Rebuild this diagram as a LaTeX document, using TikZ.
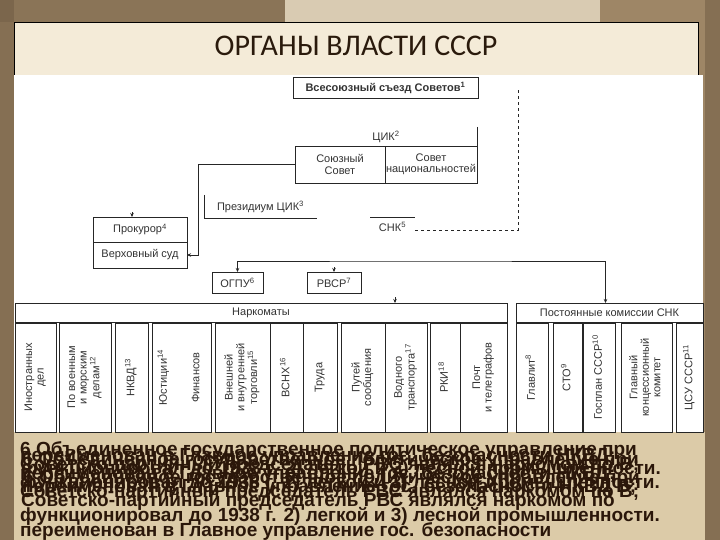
\documentclass[tikz,border=0pt]{standalone}
\usepackage{fontspec}
\setmainfont{Liberation Sans}
\newfontfamily\titlefont{Carlito}
\newfontfamily\notefont{Liberation Sans}
\usetikzlibrary{arrows.meta}
\definecolor{frame}{HTML}{9E8666}
\definecolor{framedark}{HTML}{6E5A42}
\definecolor{framelight}{HTML}{D9CBB2}
\definecolor{cream}{HTML}{F4EBD8}
\definecolor{notebg}{HTML}{DCCBA8}
\definecolor{notec}{HTML}{2B170A}
\definecolor{titlec}{HTML}{2A1A0C}
\newcommand{\diagfont}{\fontsize{11}{11.5}\selectfont}
\newcommand{\vt}[1]{\rotatebox{90}{\begin{tabular}{@{}c@{}}#1\end{tabular}}}
\begin{document}
\begin{tikzpicture}[x=1pt,y=-1pt,
  ln/.style={line width=0.7pt, draw=black!85},
  bx/.style={ln, draw, inner sep=0pt, outer sep=0pt, font=\diagfont, align=center, text=black!80},
  nb/.style={inner sep=0pt, outer sep=0pt, font=\diagfont, align=center, text=black!80},
  tip/.style={ln, -{Stealth[length=4pt,width=3.5pt]}},
  colbox/.style={bx, minimum height=109pt},
  note/.style={font=\notefont\bfseries\fontsize{19}{19}\selectfont, text=notec, anchor=base west, inner sep=0pt}
]
\useasboundingbox (0,0) rectangle (720,540);
% background frame
\fill[frame] (0,0) rectangle (720,540);
\fill[framedark, opacity=0.5] (0,0) rectangle (14,540);
\fill[framedark, opacity=0.5] (705,0) rectangle (720,540);
\fill[framelight] (285,0) rectangle (600,22);
\fill[framedark, opacity=0.4] (0,0) rectangle (285,22);
\fill[notebg] (14,432) rectangle (705,540);
% panel
\fill[cream] (14,22) rectangle (698,75);
\draw[line width=0.8pt] (14,75) -- (14,22) -- (698,22) -- (698,75);
\fill[white] (14,75) rectangle (703,432);
\node[font=\titlefont\fontsize{30}{30}\selectfont, text=titlec] (title) at (356,46) {ОРГАНЫ ВЛАСТИ СССР};

% top part
\node[bx, minimum width=185pt, minimum height=21pt, font=\diagfont\bfseries] (sezd) at (385.5,87.5) {Всесоюзный съезд Советов\textsuperscript{1}};
\node[nb, minimum width=182pt, minimum height=19pt] (cik) at (386,136.5) {ЦИК\textsuperscript{2}};
\draw[ln] (cik.north east) -- (cik.south east);
\node[bx, minimum width=90pt, minimum height=37pt] (ss) at (340,164.5) {Союзный\\Совет};
\node[bx, minimum width=92pt, minimum height=37pt] (sn) at (431,164.5) {Совет\\национальностей};
\node[nb, minimum width=113pt, minimum height=23pt] (prez) at (260.5,206.5) {Президиум ЦИК\textsuperscript{3}};
\draw[ln] (prez.north west) -- (prez.south west) -- (prez.south east);
\node[nb, minimum width=45pt, minimum height=20pt] (snk) at (392.5,227) {СНК\textsuperscript{5}};
\draw[ln] (snk.north west) -- (snk.north east);
\coordinate (dtop) at (518,90);
\draw[ln, dashed] (snk.east) ++(0,3) -| (dtop);
\node[bx, minimum width=94pt, minimum height=25pt] (prok) at (140,229.5) {Прокурор\textsuperscript{4}};
\node[bx, minimum width=94pt, minimum height=26pt] (vs) at (140,255) {Верховный суд};
\draw[tip] (ss.west) -- ++(-97,0) |- (vs.east);
\draw[tip] ([xshift=-8pt,yshift=5pt]prok.north) -- ([xshift=-8pt]prok.north);
\node[bx, minimum width=51pt, minimum height=21pt] (ogpu) at (237.5,282.5) {ОГПУ\textsuperscript{6}};
\node[bx, minimum width=54pt, minimum height=21pt] (rvs) at (334,282.5) {РВСР\textsuperscript{7}};
\node[bx, minimum width=492pt, minimum height=19pt] (nark) at (261,312.5) {Наркоматы};
\node[bx, minimum width=187pt, minimum height=19pt] (postk) at (609.5,312.5) {Постоянные комиссии СНК};
\coordinate (hub) at (420,261);
\draw[ln, {Stealth[length=4pt,width=3.5pt]}-{Stealth[length=4pt,width=3.5pt]}] (ogpu.north) |- (hub) -| ([xshift=-4pt]postk.north);
\draw[tip] ([yshift=5pt]rvs.north) -- (rvs.north);
\draw[tip] ([xshift=134pt,yshift=6pt]nark.north) -- ([xshift=134pt]nark.north);

% columns
\node[colbox, minimum width=41pt] (n1) at (35.5,377.5) {\vt{Иностранных\\дел}};
\node[colbox, minimum width=52pt] (n2) at (85,377.5) {\vt{По военным\\и морским\\делам\textsuperscript{12}}};
\node[colbox, minimum width=33pt] (n3) at (131.5,377.5) {\vt{НКВД\textsuperscript{13}}};
\node[colbox, minimum width=59pt] (n4) at (181.5,377.5) {};
\node[nb] (n4a) at (164,377.5) {\vt{Юстиции\textsuperscript{14}}};
\node[nb] (n4b) at (197,377.5) {\vt{Финансов}};
\node[colbox, minimum width=55pt] (n5) at (242.5,377.5) {\vt{Внешней\\и внутренней\\торговли\textsuperscript{15}}};
\node[colbox, minimum width=33pt] (n6) at (286.5,377.5) {\vt{ВСНХ\textsuperscript{16}}};
\node[colbox, minimum width=34pt] (n7) at (320,377.5) {\vt{Труда}};
\node[colbox, minimum width=44pt] (n8) at (363,377.5) {\vt{Путей\\сообщения}};
\node[colbox, minimum width=42pt] (n9) at (406,377.5) {\vt{Водного\\транспорта\textsuperscript{17}}};
\node[colbox, minimum width=30pt] (n10) at (445,377.5) {\vt{РКИ\textsuperscript{18}}};
\node[colbox, minimum width=47pt] (n11) at (483.5,377.5) {\vt{Почт\\и телеграфов}};
\node[colbox, minimum width=32pt] (p1) at (532,377.5) {\vt{Главлит\textsuperscript{8}}};
\node[colbox, minimum width=29pt] (p2) at (567.5,377.5) {\vt{СТО\textsuperscript{9}}};
\node[colbox, minimum width=32pt] (p3) at (599,377.5) {\vt{Госплан СССР\textsuperscript{10}}};
\node[colbox, minimum width=51pt] (p4) at (646.5,377.5) {\vt{Главный\\концессионный\\комитет}};
\node[colbox, minimum width=27pt] (p5) at (689.5,377.5) {\vt{ЦСУ СССР\textsuperscript{11}}};

% footnotes (overlapping, as in the slide)
\node[note] (f1) at (20,455) {6 Объединенное государственное политическое управление при};
\node[note] (f2) at (20,461) {переименован в Главное управление гос. безопасности НКВД;};
\node[note] (f3) at (22,465) {6 Объединенное государственное политическое управление при};
\node[note] (f4) at (20,470) {Советско-партийный председатель РВС являлся наркомом по В;};
\node[note] (f5) at (21,474) {функционировал до 1938 г. 2) легкой и 3) лесной промышленности.};
\node[note] (f6) at (20,479) {переименован в Главное управление гос. безопасности НКВД;};
\node[note] (f7) at (23,483) {6 Объединенное государственное политическое управление при};
\node[note] (f8) at (20,488) {функционировал до 1938 г. 2) легкой и 3) лесной промышленности.};
\node[note] (f9) at (22,492) {переименован в Главное управление гос. безопасности НКВД В;};
\node[note] (f10) at (20,497) {Советско-партийный председатель РВС являлся наркомом по В;};
\node[note] (f11) at (21,506) {Советско-партийный председатель РВС являлся наркомом по};
\node[note] (f12) at (20,521) {функционировал до 1938 г. 2) легкой и 3) лесной промышленности.};
\node[note] (f13) at (20,536) {переименован в Главное управление гос. безопасности};
\end{tikzpicture}
\end{document}
